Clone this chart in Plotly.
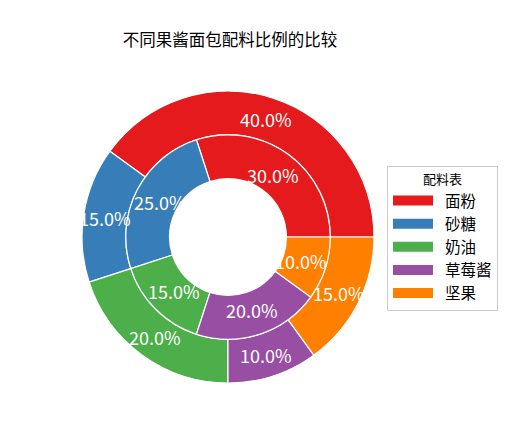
import math
import plotly.graph_objects as go

# data
labels = ["面粉", "砂糖", "奶油", "草莓酱", "坚果"]
outer_vals = [40, 15, 20, 10, 15]
inner_vals = [30, 25, 15, 20, 10]
colors = ["#e41a1c", "#377eb8", "#4daf4a", "#984ea3", "#ff7f00"]
title_text = "不同果酱面包配料比例的比较"
legend_title = "配料表"

W, H = 521, 438
OFF = 8                    # page body margin
cx, cy = 228 - OFF, H - (237 - OFF)   # pie centre in px (from bottom-left)
R = 146                    # outer radius px
FONT = "Noto Sans CJK SC"


def dom(r):
    return dict(x=[(cx - r) / W, (cx + r) / W], y=[(cy - r) / H, (cy + r) / H])


def start_rot(vals):
    # plotly counterclockwise: first slice ends at `rotation`, so shift it
    return 90 - vals[0] / sum(vals) * 360


def pct_labels(vals, r):
    out = []
    total = sum(vals)
    start = 0.0
    for v in vals:
        mid = math.radians((start + v / 2) / total * 360)
        start += v
        out.append(dict(
            x=(cx + r * math.cos(mid)) / W, y=(cy + r * math.sin(mid)) / H,
            xref="paper", yref="paper", xanchor="center", yanchor="middle",
            showarrow=False,
            text="%.1f%%" % (v / total * 100),
            font=dict(family=FONT, size=18, color="white"),
        ))
    return out


fig = go.Figure()
fig.add_trace(go.Pie(
    labels=labels, values=outer_vals, sort=False, direction="counterclockwise",
    rotation=start_rot(outer_vals), hole=0.7, domain=dom(R), textinfo="none",
    hoverinfo="label+percent", showlegend=False,
    marker=dict(colors=colors, line=dict(color="white", width=1.2)),
))
fig.add_trace(go.Pie(
    labels=labels, values=inner_vals, sort=False, direction="counterclockwise",
    rotation=start_rot(inner_vals), hole=0.4 / 0.7, domain=dom(R * 0.7),
    textinfo="none", hoverinfo="label+percent", showlegend=False,
    marker=dict(colors=colors, line=dict(color="white", width=1.2)),
))

# legend keys as wide bars, like matplotlib's patches
for lab, col in zip(labels, colors):
    fig.add_trace(go.Scatter(x=[None], y=[None], mode="lines",
                             name="\u00a0\u00a0" + lab,
                             line=dict(color=col, width=10), hoverinfo="skip"))

fig.update_layout(
    width=W, height=H,
    margin=dict(l=0, r=0, t=0, b=0),
    paper_bgcolor="white", plot_bgcolor="rgba(0,0,0,0)",
    xaxis=dict(visible=False), yaxis=dict(visible=False),
    font=dict(family=FONT, color="black"),
    title=dict(text=title_text, x=(230 - OFF) / W, xanchor="center",
               y=1 - (40 - OFF) / H, yanchor="middle",
               font=dict(size=16.5, color="black")),
    legend=dict(
        title=dict(text=legend_title, font=dict(size=13), side="top center"),
        x=(387 - OFF) / W, y=1 - (166 - OFF) / H, xanchor="left", yanchor="top",
        font=dict(size=15.5), bordercolor="#cccccc", borderwidth=1,
        bgcolor="white", itemwidth=40, tracegroupgap=0,
    ),
    annotations=pct_labels(outer_vals, R * 0.85) + pct_labels(inner_vals, R * 0.525),
)

fig.write_html("out.html")
